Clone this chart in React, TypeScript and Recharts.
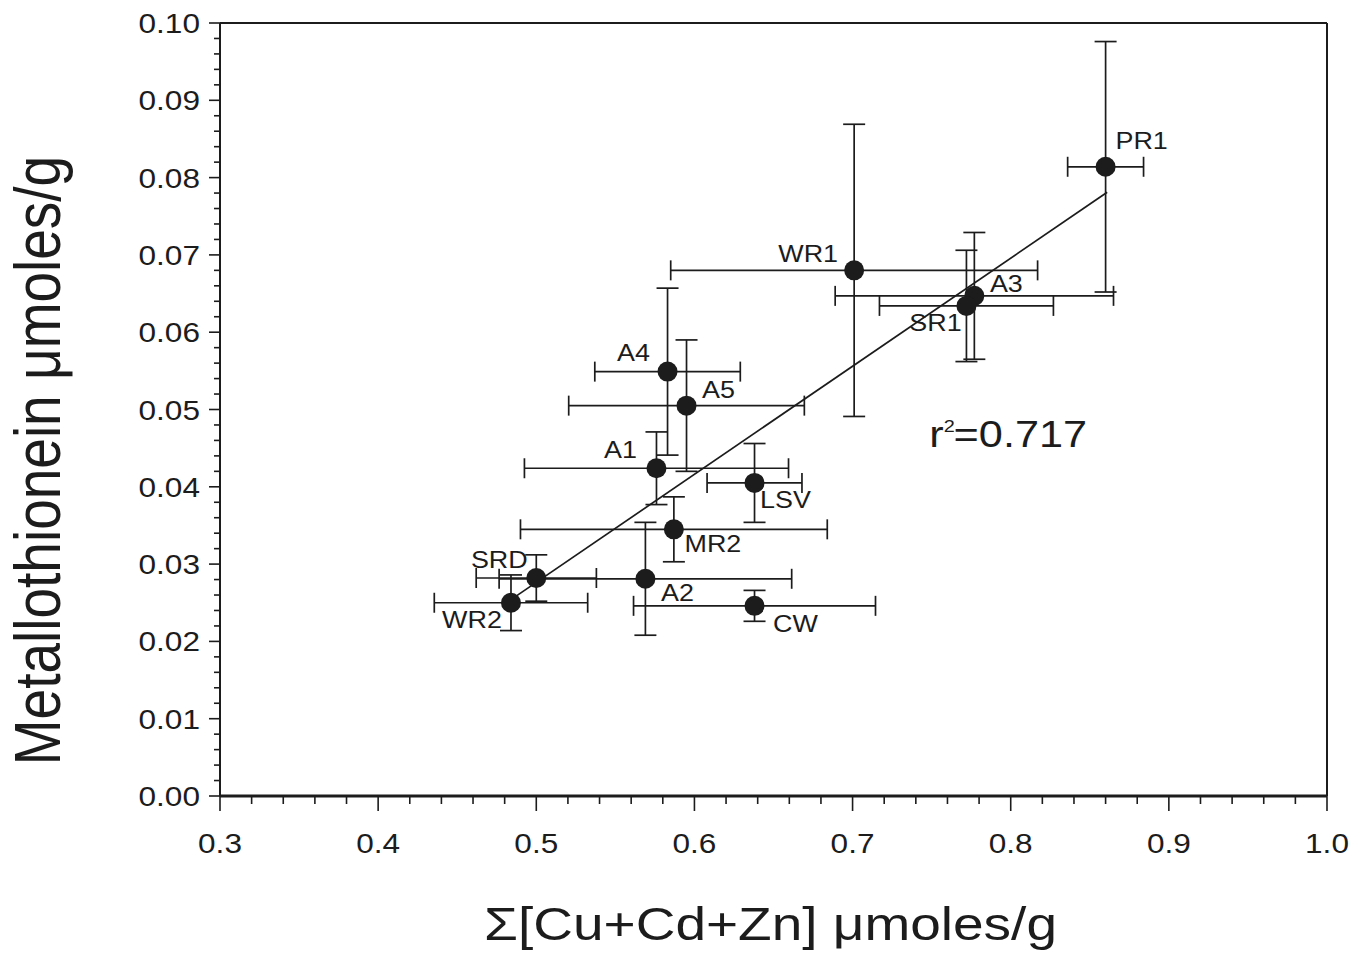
import React from 'react';
import { ScatterChart, Scatter, XAxis, YAxis, ErrorBar, ReferenceLine, ReferenceDot } from 'recharts';

// ---- data ----
const sites = ['PR1', 'WR1', 'A3', 'SR1', 'A4', 'A5', 'A1', 'LSV', 'MR2', 'A2', 'SRD', 'WR2', 'CW'];
const metalSum = [0.860, 0.701, 0.777, 0.772, 0.583, 0.595, 0.576, 0.638, 0.587, 0.569, 0.500, 0.484, 0.638];
const metalSumErr = [0.024, 0.116, 0.088, 0.055, 0.046, 0.0745, 0.0835, 0.030, 0.097, 0.0925, 0.038, 0.0485, 0.0765];
const metallothionein = [0.0814, 0.0680, 0.0647, 0.0634, 0.0549, 0.0505, 0.0424, 0.0405, 0.0345, 0.0281, 0.0282, 0.0250, 0.0246];
const metallothioneinErr = [0.0162, 0.0189, 0.0082, 0.0072, 0.0108, 0.0085, 0.0047, 0.0051, 0.0042, 0.0073, 0.0030, 0.0036, 0.0020];

// regression line end points
const regX = [0.484, 0.861];
const regY = [0.0254, 0.0781];
const rSquared = '0.717';
const rSquaredPos = { x: 0.7485, y: 0.0452 };

const xMajorTicks = [0.3, 0.4, 0.5, 0.6, 0.7, 0.8, 0.9, 1.0];
const yMajorTicks = [0.0, 0.01, 0.02, 0.03, 0.04, 0.05, 0.06, 0.07, 0.08, 0.09, 0.1];

// label placement (pixel offsets of label centre from the point)
const labelOffsets: Record<string, [number, number]> = {
  PR1: [36, -26], WR1: [-46, -16], A3: [32, -12], SR1: [-31, 17], A4: [-34, -19],
  A5: [32, -16], A1: [-36, -18], LSV: [31, 17], MR2: [39, 15], A2: [32, 14],
  SRD: [-37, -18], WR2: [-39, 17], CW: [41, 18],
};

const data = sites.map((s, i) => ({
  site: s,
  x: metalSum[i],
  y: metallothionein[i],
  ex: metalSumErr[i],
  ey: metallothioneinErr[i],
}));

// minor ticks built between majors
const xTicks: number[] = [];
for (let i = 0; i < xMajorTicks.length - 1; i++) {
  for (let k = 0; k < 5; k++) xTicks.push(+(xMajorTicks[i] + k * 0.02).toFixed(3));
}
xTicks.push(xMajorTicks[xMajorTicks.length - 1]);
const yTicks: number[] = [];
for (let i = 0; i < yMajorTicks.length - 1; i++) {
  for (let k = 0; k < 5; k++) yTicks.push(+(yMajorTicks[i] + k * 0.002).toFixed(4));
}
yTicks.push(yMajorTicks[yMajorTicks.length - 1]);

const FONT = '"Liberation Sans", Arial, Helvetica, sans-serif';
const INK = '#1c1c1c';
const SX = 1.17;

const STxt = ({ x, y, size, anchor, children }: any) => (
  <text
    transform={`translate(${x},${y}) scale(${SX},1)`}
    fontFamily={FONT}
    fontSize={size}
    fill={INK}
    textAnchor={anchor}
  >
    {children}
  </text>
);

const isMajor = (v: number, list: number[]) => list.some((m) => Math.abs(m - v) < 1e-6);

const XTick = (props: any) => {
  const { x, y, payload } = props;
  const v = payload.value;
  const major = isMajor(v, xMajorTicks);
  return (
    <g>
      <line x1={x} y1={y} x2={x} y2={y + (major ? 15 : 8)} stroke={INK} strokeWidth={1.6} />
      {major && (
        <STxt x={x} y={y + 57} size={27} anchor="middle">
          {v.toFixed(1)}
        </STxt>
      )}
    </g>
  );
};

const YTick = (props: any) => {
  const { x, y, payload } = props;
  const v = payload.value;
  const major = isMajor(v, yMajorTicks);
  return (
    <g>
      <line x1={x} y1={y} x2={x - (major ? 11 : 6)} y2={y} stroke={INK} strokeWidth={1.6} />
      {major && (
        <STxt x={x - 20} y={y + 10} size={27} anchor="end">
          {v.toFixed(2)}
        </STxt>
      )}
    </g>
  );
};

const PointShape = (props: any) => {
  const { cx, cy, payload } = props;
  const off = labelOffsets[payload.site] || [0, 0];
  return (
    <g>
      <circle cx={cx} cy={cy} r={10} fill={INK} />
      <STxt x={cx + off[0]} y={cy + off[1] + 8} size={23} anchor="middle">
        {payload.site}
      </STxt>
    </g>
  );
};

const RSquaredText = (props: any) => {
  const { cx, cy } = props;
  return (
    <text
      transform={`translate(${cx},${cy}) scale(${SX},1)`}
      fontFamily={FONT}
      fontSize={37}
      fill={INK}
    >
      r
      <tspan dx={0} dy={-15} fontSize={17}>2</tspan>
      <tspan dx={-1} dy={15}>={rSquared}</tspan>
    </text>
  );
};

const YTitle = (props: any) => {
  const vb = props.viewBox;
  const cx = vb.x + 38;
  const cy = vb.y + vb.height / 2 + 51;
  return (
    <text
      transform={`translate(${cx},${cy}) rotate(-90) scale(1,${SX})`}
      fontFamily={FONT}
      fontSize={55}
      fill={INK}
      textAnchor="middle"
      dominantBaseline="central"
    >
      Metallothionein  μmoles/g
    </text>
  );
};

const XTitle = (props: any) => {
  const vb = props.viewBox;
  const cx = vb.x + vb.width / 2 - 3;
  const cy = vb.y + 144;
  return (
    <STxt x={cx} y={cy} size={47} anchor="middle">
      Σ[Cu+Cd+Zn] μmoles/g
    </STxt>
  );
};

export default function App() {
  return (
    <div style={{ position: 'absolute', left: 0, top: 0, background: '#fff' }}>
      <ScatterChart width={1363} height={954} margin={{ top: 23, right: 36, bottom: 0, left: 0 }}>
        <XAxis
          type="number"
          dataKey="x"
          domain={[0.3, 1.0]}
          ticks={xTicks}
          interval={0}
          tickSize={0}
          tickMargin={0}
          tickLine={false}
          tick={<XTick />}
          axisLine={{ stroke: INK, strokeWidth: 3 }}
          height={158}
          allowDataOverflow
          label={<XTitle />}
        />
        <YAxis
          type="number"
          dataKey="y"
          domain={[0, 0.1]}
          ticks={yTicks}
          interval={0}
          tickSize={0}
          tickMargin={0}
          tickLine={false}
          tick={<YTick />}
          axisLine={{ stroke: INK, strokeWidth: 2 }}
          width={220}
          allowDataOverflow
          label={<YTitle />}
        />
        <ReferenceLine y={0.1} stroke={INK} strokeWidth={2} />
        <ReferenceLine x={1.0} stroke={INK} strokeWidth={2} />
        <ReferenceLine
          segment={[
            { x: regX[0], y: regY[0] },
            { x: regX[1], y: regY[1] },
          ]}
          stroke={INK}
          strokeWidth={1.7}
        />
        <ReferenceDot x={rSquaredPos.x} y={rSquaredPos.y} r={0} shape={<RSquaredText />} />
        <Scatter data={data} isAnimationActive={false} shape={<PointShape />}>
          <ErrorBar dataKey="ex" direction="x" width={10} stroke={INK} strokeWidth={1.7} />
          <ErrorBar dataKey="ey" direction="y" width={11} stroke={INK} strokeWidth={1.7} />
        </Scatter>
      </ScatterChart>
    </div>
  );
}
